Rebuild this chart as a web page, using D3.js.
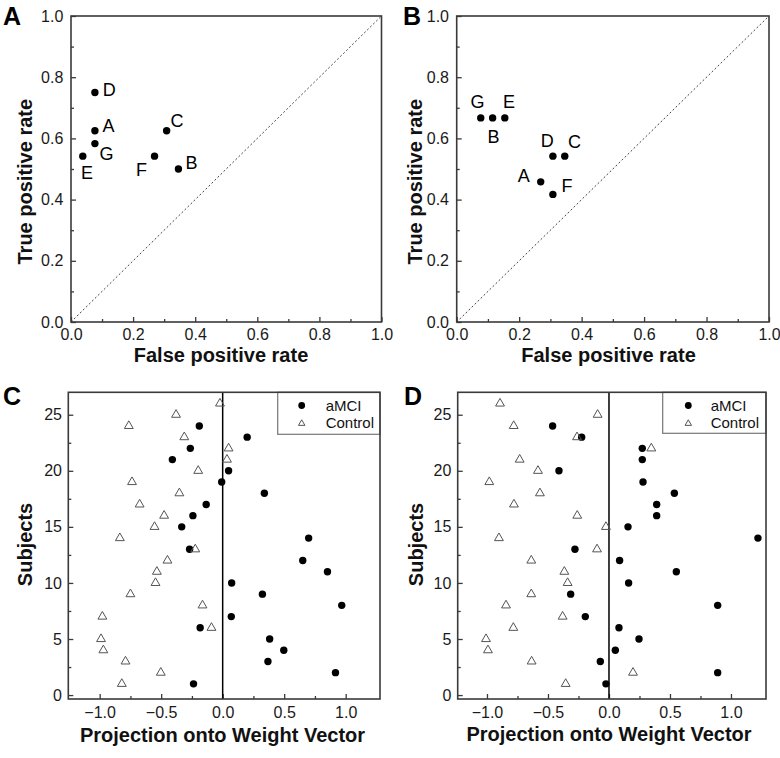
<!DOCTYPE html>
<html><head><meta charset="utf-8">
<script src="https://cdn.jsdelivr.net/npm/d3@7"></script>
<style>body{margin:0;background:#fff}svg{display:block}</style>
</head><body>
<script>
// ---------- DATA ----------
const rocLabels = ["A","B","C","D","E","F","G"];
const rocA_fpr = [0.077,0.346,0.308,0.077,0.038,0.269,0.077];
const rocA_tpr = [0.625,0.500,0.625,0.750,0.542,0.542,0.583];
const rocB_fpr = [0.269,0.115,0.346,0.308,0.154,0.308,0.077];
const rocB_tpr = [0.458,0.667,0.542,0.542,0.667,0.417,0.667];
const rocTicks = [0,0.2,0.4,0.6,0.8,1.0];
const rocMinorTicks = [0.1,0.3,0.5,0.7,0.9];

const projTicksX = [-1.0,-0.5,0,0.5,1.0];
const projMinorX = [-0.75,-0.25,0.25,0.75];
const projTicksY = [0,5,10,15,20,25];
const projMinorY = [2.5,7.5,12.5,17.5,22.5];

const subjAMCI = [1,2,3,4,5,6,7,8,9,10,11,12,13,14,15,16,17,18,19,20,21,22,23,24];
const subjControl = [1,2,3,4,5,6,7,8,9,10,11,12,13,14,15,16,17,18,19,20,21,22,23,24,25,26];

const projC_aMCI = [-0.237,0.917,0.368,0.497,0.382,-0.183,0.070,0.968,0.323,0.073,0.852,0.651,
  -0.269,0.699,-0.333,-0.242,-0.134,0.339,-0.008,0.048,-0.409,-0.263,0.199,-0.190];
const projC_Control = [-0.820,-0.503,-0.790,-0.970,-0.989,-0.091,-0.978,-0.164,-0.750,-0.546,-0.535,-0.449,
  -0.223,-0.836,-0.554,-0.476,-0.675,-0.352,-0.737,-0.199,0.035,0.048,-0.312,-0.763,-0.379,-0.022];
const projD_aMCI = [-0.025,0.891,-0.071,0.052,0.246,0.082,-0.194,0.891,-0.314,0.161,0.552,0.087,
  -0.279,1.221,0.156,0.391,0.391,0.536,0.279,-0.410,0.273,0.273,-0.224,-0.462];
const projD_Control = [-0.355,0.197,-0.634,-0.992,-1.008,-0.784,-0.380,-0.844,-0.637,-0.339,-0.366,-0.637,
  -0.098,-0.902,-0.025,-0.260,-0.779,-0.566,-0.981,-0.582,-0.732,0.347,-0.262,-0.781,-0.093,-0.893];

const legendNames = ["aMCI","Control"];

// label offsets (style only) [dx, dy] relative to point, text centered
const labelOffA = {A:[13.7,1.7],B:[13,0],C:[10.3,-3.7],D:[14.3,3],E:[4.3,23],F:[-13,19.4],G:[11.5,16.7]};
const labelOffB = {A:[-16.9,0],B:[1,25.3],C:[9.8,-8.3],D:[-5.7,-9.3],E:[4.3,-10.3],F:[14,-2],G:[-3.2,-10.3]};

// ---------- DRAW ----------
const W = 780, H = 758;
const svg = d3.select("body").append("svg").attr("width", W).attr("height", H);
const FONT = "'Liberation Sans', Arial, Helvetica, sans-serif";
svg.style("font-family", FONT);

function frame(g, x0, x1, y0, y1) {
  g.append("rect").attr("x", x0).attr("y", y0).attr("width", x1 - x0).attr("height", y1 - y0)
    .attr("fill", "none").attr("stroke", "#3a3a3a").attr("stroke-width", 1.6);
}

function drawAxes(g, x, y, opts) {
  const [x0, x1] = x.range(), [y1, y0] = y.range();
  const ax = g.append("g").attr("transform", `translate(0,${y1})`)
    .call(d3.axisBottom(x).tickValues(opts.xt).tickFormat(opts.xf).tickSize(-5).tickPadding(opts.xpad));
  ax.append("g").call(d3.axisBottom(x).tickValues(opts.xm).tickFormat("").tickSize(-3));
  const ay = g.append("g").attr("transform", `translate(${x0},0)`)
    .call(d3.axisLeft(y).tickValues(opts.yt).tickFormat(opts.yf).tickSize(-5).tickPadding(opts.ypad));
  ay.append("g").call(d3.axisLeft(y).tickValues(opts.ym).tickFormat("").tickSize(-3));
  g.selectAll(".domain").remove();
  g.selectAll(".tick line").attr("stroke", "#3a3a3a").attr("stroke-width", 1.3);
  g.selectAll(".tick text").attr("font-size", 16).attr("fill", "#1a1a1a").style("font-family", FONT);
}

function title(g, txt, x, y, rot) {
  const t = g.append("text").text(txt).attr("font-size", 20).attr("font-weight", "bold")
    .attr("text-anchor", "middle").attr("fill", "#111");
  if (rot) t.attr("transform", `translate(${x},${y}) rotate(-90)`);
  else t.attr("x", x).attr("y", y);
}
function letter(txt, x, y) {
  svg.append("text").text(txt).attr("x", x).attr("y", y).attr("font-size", 25)
    .attr("font-weight", "bold").attr("fill", "#000");
}

// ROC panels
function rocPanel(p) {
  const g = svg.append("g");
  const x = d3.scaleLinear().domain([0, 1]).range([p.x0, p.x1]);
  const y = d3.scaleLinear().domain([0, 1]).range([p.y1, p.y0]);
  drawAxes(g, x, y, {xt: rocTicks, xm: rocMinorTicks, xf: d3.format(".1f"), xpad: 6.6,
                     yt: rocTicks, ym: rocMinorTicks, yf: d3.format(".1f"), ypad: 7.7});
  g.append("line").attr("x1", x(0)).attr("y1", y(0)).attr("x2", x(1)).attr("y2", y(1))
    .attr("stroke", "#444").attr("stroke-width", 1).attr("stroke-dasharray", "2,2.2");
  const pts = rocLabels.map((l, i) => ({l, fx: p.fpr[i], ty: p.tpr[i]}));
  g.selectAll("circle.pt").data(pts).join("circle").attr("class", "pt")
    .attr("cx", d => x(d.fx)).attr("cy", d => y(d.ty)).attr("r", 3.7).attr("fill", "#000");
  g.selectAll("text.lab").data(pts).join("text").attr("class", "lab")
    .attr("x", d => x(d.fx) + p.off[d.l][0]).attr("y", d => y(d.ty) + p.off[d.l][1])
    .attr("text-anchor", "middle").attr("font-size", 18).attr("fill", "#000").text(d => d.l);
  frame(g, p.x0, p.x1, p.y0, p.y1);
  title(g, "False positive rate", p.tx, 361.5, false);
  title(g, "True positive rate", p.ty, 181.7, true);
}

rocPanel({x0: 71, x1: 381.5, y0: 16, y1: 322, fpr: rocA_fpr, tpr: rocA_tpr, off: labelOffA, tx: 221, ty: 31.7});
rocPanel({x0: 456.7, x1: 769, y0: 16, y1: 322, fpr: rocB_fpr, tpr: rocB_tpr, off: labelOffB, tx: 608.5, ty: 421.7});

// Projection panels
function projPanel(p) {
  const g = svg.append("g");
  const x = d3.scaleLinear().domain(p.xd).range([p.x0, p.x1]);
  const y = d3.scaleLinear().domain([-0.35, 27]).range([p.y1, p.y0]);
  drawAxes(g, x, y, {xt: projTicksX, xm: projMinorX, xf: d3.format(".1f"), xpad: 8.1,
                     yt: projTicksY, ym: projMinorY, yf: d3.format("d"), ypad: 6.3});
  g.append("line").attr("x1", x(0)).attr("x2", x(0)).attr("y1", p.y0).attr("y2", p.y1)
    .attr("stroke", "#000").attr("stroke-width", 1.5);
  g.selectAll("circle.a").data(p.a.map((v, i) => [v, subjAMCI[i]])).join("circle").attr("class", "a")
    .attr("cx", d => x(d[0])).attr("cy", d => y(d[1])).attr("r", 3.7).attr("fill", "#000");
  const tri = d3.symbol().type(d3.symbolTriangle).size(34);
  g.selectAll("path.c").data(p.c.map((v, i) => [v, subjControl[i]])).join("path").attr("class", "c")
    .attr("d", tri).attr("transform", d => `translate(${x(d[0])},${y(d[1])})`)
    .attr("fill", "none").attr("stroke", "#555").attr("stroke-width", 1);
  // legend
  const lg = g.append("g");
  lg.append("rect").attr("x", p.lx0).attr("y", p.y0).attr("width", p.x1 - p.lx0).attr("height", p.ly1 - p.y0)
    .attr("fill", "#fff").attr("stroke", "#777").attr("stroke-width", 1.2);
  lg.append("circle").attr("cx", p.lmx).attr("cy", 405.5).attr("r", 3.4).attr("fill", "#000");
  lg.append("path").attr("d", d3.symbol().type(d3.symbolTriangle).size(18))
    .attr("transform", `translate(${p.lmx},423.5)`).attr("fill", "none").attr("stroke", "#555").attr("stroke-width", 1);
  lg.selectAll("text").data(legendNames).join("text").attr("x", p.ltx).attr("y", (d, i) => 410.7 + i * 17)
    .attr("font-size", 15).attr("fill", "#111").text(d => d);
  frame(g, p.x0, p.x1, p.y0, p.y1);
  title(g, "Projection onto Weight Vector", p.tx, p.tyb, false);
  title(g, "Subjects", p.sx, 544.5, true);
}

projPanel({x0: 68.3, x1: 380, y0: 392.3, y1: 699, xd: [-1.255, 1.279], a: projC_aMCI, c: projC_Control,
  lx0: 277.7, ly1: 434.3, lmx: 301.7, ltx: 325.7, tx: 222.5, tyb: 741.5, sx: 31.7});
projPanel({x0: 457.7, x1: 766, y0: 392.3, y1: 699, xd: [-1.24, 1.287], a: projD_aMCI, c: projD_Control,
  lx0: 662.7, ly1: 433.3, lmx: 688.3, ltx: 710.7, tx: 609, tyb: 741, sx: 423});

letter("A", 3, 25);
letter("B", 403, 25);
letter("C", 3, 405);
letter("D", 404, 405);
</script>
</body></html>
